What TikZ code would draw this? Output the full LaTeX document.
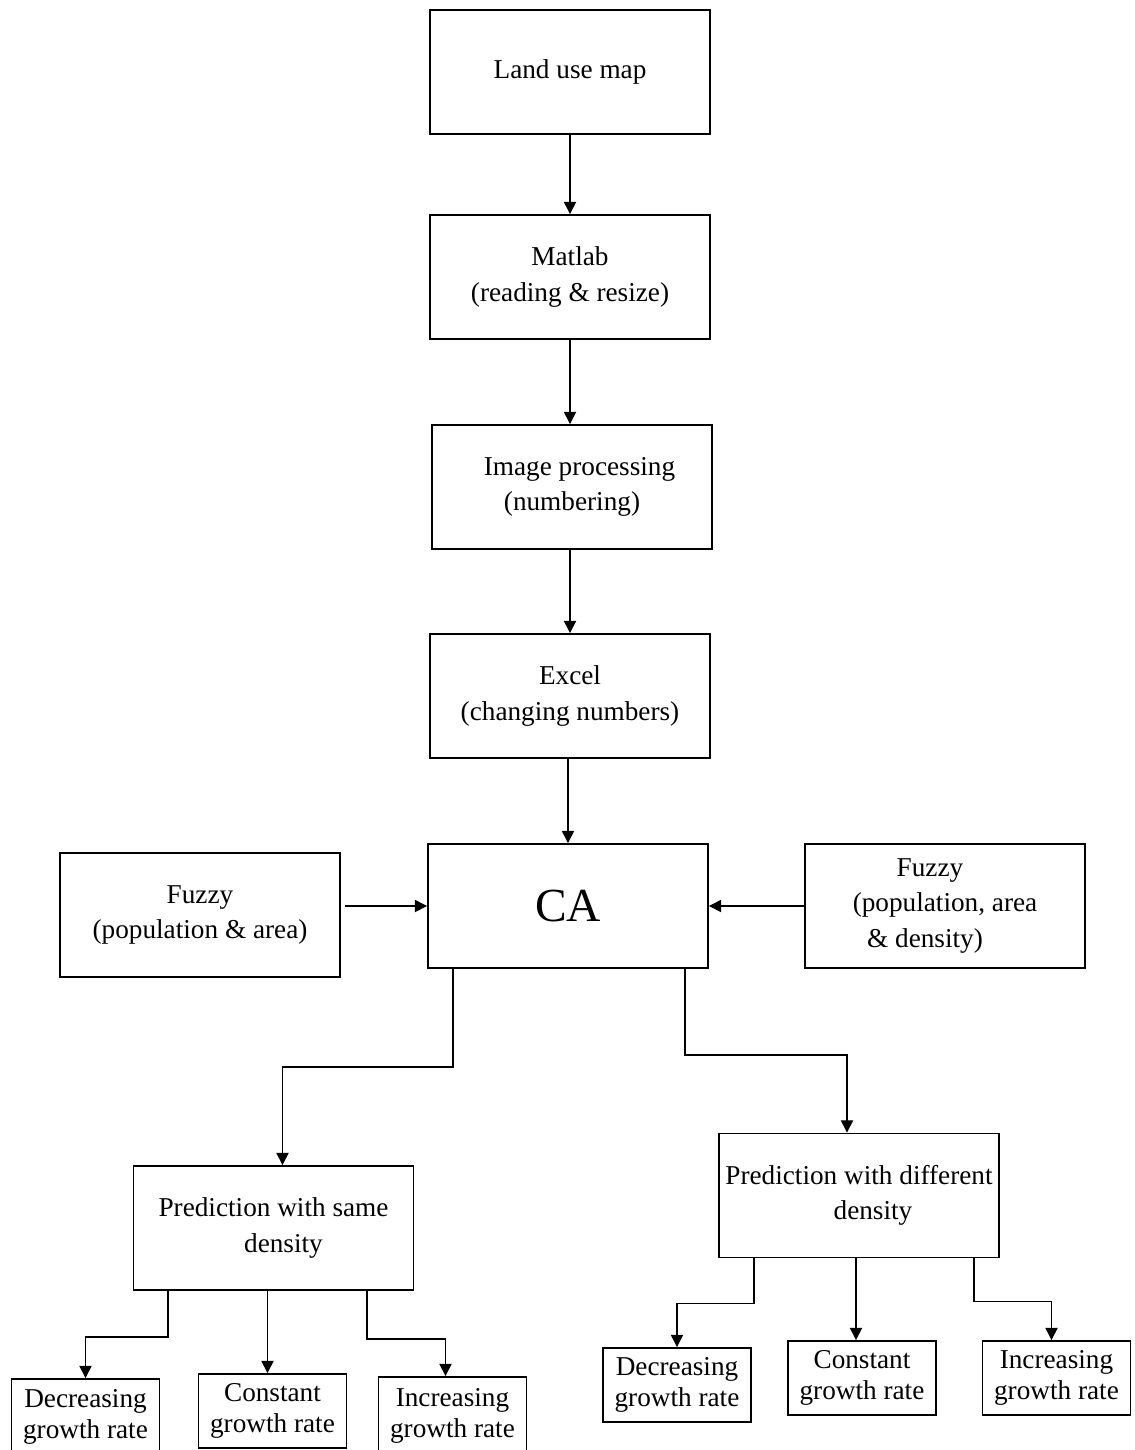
\documentclass[tikz,border=0pt]{standalone}
\usepackage{fontspec}
\setmainfont{Liberation Serif}
\usetikzlibrary{arrows.meta,calc}

\begin{document}
\begin{tikzpicture}[x=0.02cm,y=-0.02cm,
    bigbox/.style={draw,line width=1.1pt,minimum width=5.6cm,minimum height=2.48cm,align=center,font=\fontsize{15.5}{20}\selectfont},
    smallbox/.style={draw,line width=1.1pt,minimum width=2.96cm,minimum height=1.48cm,align=center,inner sep=2pt,font=\fontsize{15.5}{17.5}\selectfont},
    arr/.style={line width=0.8pt,-{Triangle[length=7pt,width=7pt]}}]
    \useasboundingbox (0,0) rectangle (1134,1450);

    \node[bigbox] (land) at (570,72) {Land use map};
    \node[bigbox] (matlab) at (570,277) {Matlab\\(reading \& resize)};
    \node[bigbox] (imgproc) at (572,487) {\hspace*{0.3cm}Image processing\\(numbering)};
    \node[bigbox] (excel) at (570,696) {Excel\\(changing numbers)};
    \node[bigbox,font=\fontsize{27}{30}\selectfont] (ca) at (568,906) {CA};
    \node[bigbox] (fuzzyl) at (200,915) {Fuzzy\\(population \& area)};
    \node[bigbox] (fuzzyr) at (945,906) {Fuzzy\hspace*{0.6cm}\\(population, area\hspace*{1cm}\\\& density)\hspace*{0.8cm}};
    \node[bigbox] (predsame) at (273.5,1228) {Prediction with same\\\hspace*{0.4cm}density};
    \node[bigbox] (preddiff) at (859,1195.5) {Prediction with different\\\hspace*{0.56cm}density};

    \node[smallbox,minimum height=1.52cm] (decl) at (85.5,1417) {Decreasing\\growth rate};
    \node[smallbox] (constl) at (272.5,1411) {Constant\\growth rate};
    \node[smallbox,minimum height=1.56cm] (incl) at (452.5,1416) {Increasing\\growth rate};
    \node[smallbox] (decr) at (677,1385) {Decreasing\\growth rate};
    \node[smallbox] (constr) at (862,1378) {Constant\\growth rate};
    \node[smallbox] (incr) at (1056.5,1378) {Increasing\\growth rate};

    \draw[arr] (land) -- (matlab);
    \draw[arr] (matlab) -- (matlab |- imgproc.north);
    \draw[arr] (imgproc.south -| excel) -- (excel);
    \draw[arr] (excel.south -| ca) -- (ca);
    \draw[arr] ($(fuzzyl.east |- ca)+(4,0)$) -- (ca);
    \draw[arr] (fuzzyr) -- (ca);

    \draw[arr] ($(ca.south)+(-115,0)$) -- ++(0,98) -| ($(predsame.north)+(9,0)$);
    \draw[arr] ($(ca.south)+(117,0)$) -- ++(0,86) -| ($(preddiff.north)+(-12,0)$);

    \draw[arr] ($(predsame.south)+(-105.5,0)$) -- ++(0,46) -| (decl);
    \draw[arr] ($(predsame.south)+(-6,0)$) -- ($(constl.north)+(-5,0)$);
    \draw[arr] ($(predsame.south)+(93.5,0)$) -- ++(0,48) -| ($(incl.north)+(-7,0)$);
    \draw[arr] ($(preddiff.south)+(-105,0)$) -- ++(0,45) -| (decr);
    \draw[arr] ($(preddiff.south)+(-3,0)$) -- ($(constr.north)+(-6,0)$);
    \draw[arr] ($(preddiff.south)+(115,0)$) -- ++(0,43) -| ($(incr.north)+(-5,0)$);
\end{tikzpicture}
\end{document}
